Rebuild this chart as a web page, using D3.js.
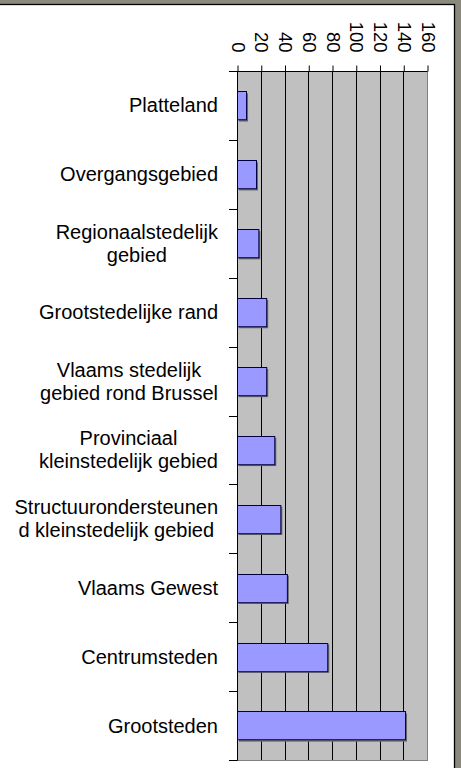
<!DOCTYPE html>
<html>
<head>
<meta charset="utf-8">
<script src="https://cdn.jsdelivr.net/npm/d3@7"></script>
<style>
  body { margin: 0; background: #fff; }
  text { font-family: "Liberation Sans", Arial, sans-serif; fill: #000; }
</style>
</head>
<body>
<div id="chart"></div>
<script>

// data
var categories = ["Platteland", "Overgangsgebied", "Regionaalstedelijk\ngebied",
    "Grootstedelijke rand", "Vlaams stedelijk\ngebied rond Brussel",
    "Provinciaal\nkleinstedelijk gebied", "Structuurondersteunen\nd kleinstedelijk gebied",
    "Vlaams Gewest", "Centrumsteden", "Grootsteden"];
var values = [7.6, 16, 18, 24.6, 24.6, 31.4, 36.5, 42, 76, 141.5];
var tickValues = [0, 20, 40, 60, 80, 100, 120, 140, 160];

barChart = function(_parentElement){
    this.parentElement = _parentElement;
    this.initVis();
}

barChart.prototype.initVis = function() {
    var vis = this;

    vis.margin = {top: 71, left: 237};
    vis.width = 190;
    vis.height = 689;

    vis.svg = d3.select("#" + vis.parentElement).append("svg")
        .attr("width", 461)
        .attr("height", 768);

    // grey window frame round the chart area
    vis.svg.append("rect").attr("x", 0).attr("y", 0).attr("width", 461).attr("height", 768)
        .attr("fill", "#8b887c");
    vis.svg.append("rect").attr("x", -1).attr("y", 4.5).attr("width", 455.5).attr("height", 780)
        .attr("fill", "#fff").attr("stroke", "#000").attr("stroke-width", 1.3);

    vis.g = vis.svg.append("g")
        .attr("transform", "translate(" + vis.margin.left + "," + vis.margin.top + ")");

    vis.x = d3.scaleLinear().domain([0, 160]).range([0, vis.width]);
    vis.y = d3.scaleBand().domain(categories).range([0, vis.height])
        .paddingInner(0.59).paddingOuter(0.295);

    vis.updateVis();
}

barChart.prototype.updateVis = function() {
    var vis = this;
    var step = vis.y.step();

    // plot area
    vis.g.append("rect")
        .attr("x", 0.5).attr("y", 0.5)
        .attr("width", vis.width).attr("height", vis.height)
        .attr("fill", "#c0c0c0").attr("stroke", "#808080");

    // gridlines
    vis.g.selectAll(".grid")
        .data(tickValues.slice(1, -1))
        .enter().append("line")
        .attr("class", "grid")
        .attr("x1", function(d) { return Math.round(vis.x(d)) + 0.5; })
        .attr("x2", function(d) { return Math.round(vis.x(d)) + 0.5; })
        .attr("y1", 0).attr("y2", vis.height)
        .attr("stroke", "#000");

    // bar shadows
    vis.g.selectAll(".shadow")
        .data(values)
        .enter().append("rect")
        .attr("class", "shadow")
        .attr("x", 2)
        .attr("y", function(d, i) { return vis.y(categories[i]) + 2; })
        .attr("width", function(d) { return vis.x(d); })
        .attr("height", vis.y.bandwidth())
        .attr("fill", "#6a6a6a");

    // bars
    vis.g.selectAll(".bar")
        .data(values)
        .enter().append("rect")
        .attr("class", "bar")
        .attr("x", 0.5)
        .attr("y", function(d, i) { return Math.round(vis.y(categories[i])) + 0.5; })
        .attr("width", function(d) { return vis.x(d); })
        .attr("height", vis.y.bandwidth())
        .attr("fill", "#9999ff")
        .attr("stroke", "#000040");

    // top value axis
    var xAxis = d3.axisTop(vis.x).tickValues(tickValues).tickSize(6).tickSizeOuter(0);
    var ax = vis.g.append("g").attr("class", "x-axis").attr("transform", "translate(0.5,0.5)").call(xAxis);
    ax.select(".domain").attr("stroke", "#000").attr("d", "M-8,0H" + vis.width);
    ax.selectAll(".tick line").attr("stroke", "#000");
    ax.selectAll(".tick text")
        .attr("font-size", "18.5px")
        .attr("font-family", "Liberation Sans, Arial, sans-serif")
        .attr("fill", "#000")
        .attr("text-anchor", "end")
        .attr("transform", "translate(0,-19) rotate(90)")
        .attr("x", 0).attr("y", 0)
        .attr("dy", "0.35em");

    // category axis line + boundary ticks
    vis.g.append("line")
        .attr("x1", 0.5).attr("x2", 0.5).attr("y1", 0).attr("y2", vis.height + 0.5)
        .attr("stroke", "#000");
    vis.g.selectAll(".ytick")
        .data(d3.range(categories.length + 1))
        .enter().append("line")
        .attr("class", "ytick")
        .attr("x1", -8).attr("x2", 0.5)
        .attr("y1", function(d) { return Math.round(d * step) + 0.5; })
        .attr("y2", function(d) { return Math.round(d * step) + 0.5; })
        .attr("stroke", "#000");

    // category labels, lines centred, block right-aligned
    var labels = vis.g.selectAll(".cat")
        .data(categories)
        .enter().append("text")
        .attr("class", "cat")
        .attr("font-size", "20px")
        .attr("text-anchor", "middle");

    labels.each(function(d) {
        var t = d3.select(this);
        var lines = d.split("\n");
        var cy = vis.y(d) + vis.y.bandwidth() / 2;
        var lh = 23;
        lines.forEach(function(l, j) {
            t.append("tspan")
                .attr("y", cy + (j - (lines.length - 1) / 2) * lh)
                .attr("dy", "0.35em")
                .text(l);
        });
        var w = d3.max(t.selectAll("tspan").nodes(), function(n) { return n.getComputedTextLength(); });
        t.selectAll("tspan").attr("x", -19 - w / 2);
    });
}

var chart = new barChart("chart");
</script>
</body>
</html>
